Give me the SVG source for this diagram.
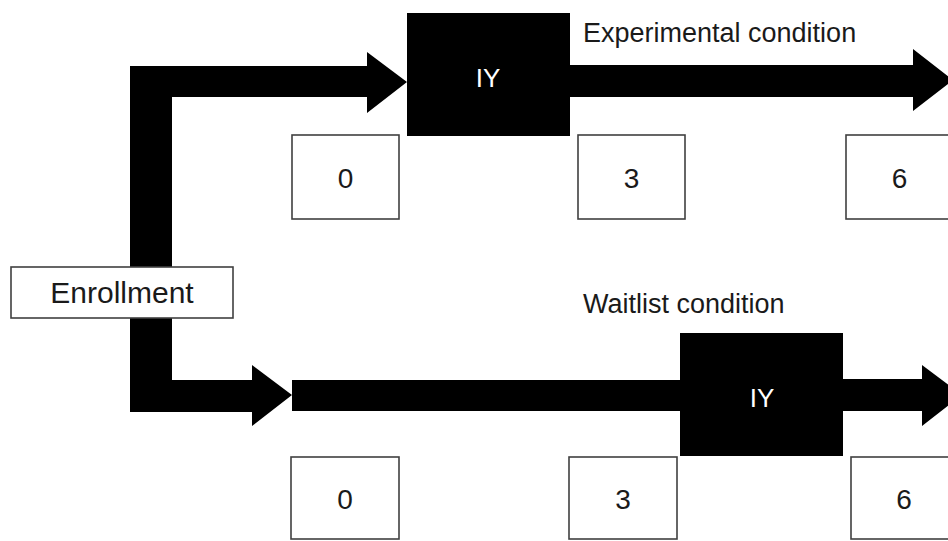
<svg xmlns="http://www.w3.org/2000/svg" width="948" height="541" viewBox="0 0 948 541">
<style>
.box{fill:#fff;stroke:#404040;stroke-width:1.6}
.blk{fill:#000}
.t{font-family:"Liberation Sans",Arial,sans-serif;font-size:28px;fill:#1a1a1a;text-anchor:middle}
.big{font-size:30px}
.lbl{font-family:"Liberation Sans",Arial,sans-serif;font-size:27px;fill:#1a1a1a}
.w{font-family:"Liberation Sans",Arial,sans-serif;font-size:26px;fill:#fff;text-anchor:middle}
</style>
<rect width="948" height="541" fill="#fff"/>
<g id="connectors">
<path class="blk" d="M130,292 L130,66 L367,66 L367,52 L407,82 L367,113 L367,97 L172,97 L172,292 Z"/>
<path class="blk" d="M130,292 L130,412 L252,412 L252,426 L292,395 L252,365 L252,380 L172,380 L172,292 Z"/>
<path class="blk" d="M570,65 L913,65 L913,49 L953,80 L913,111 L913,97 L570,97 Z"/>
<rect class="blk" x="292" y="380" width="390" height="31"/>
<path class="blk" d="M841,379 L922,379 L922,365 L962,395 L922,426 L922,411 L841,411 Z"/>
</g>
<g id="enrollment">
<rect class="box" x="11" y="267" width="222" height="51"/>
<text class="t big" x="122" y="303">Enrollment</text>
</g>
<g id="iy-experimental">
<rect class="blk" x="407" y="13" width="163" height="123"/>
<text class="w" x="488" y="87">IY</text>
</g>
<g id="label-experimental">
<text class="lbl" x="583" y="42">Experimental condition</text>
</g>
<g id="iy-waitlist">
<rect class="blk" x="680" y="333" width="163" height="123"/>
<text class="w" x="762" y="407">IY</text>
</g>
<g id="label-waitlist">
<text class="lbl" x="583" y="313">Waitlist condition</text>
</g>
<g id="top-0">
<rect class="box" x="292" y="135" width="107" height="84"/>
<text class="t" x="345.5" y="188">0</text>
</g>
<g id="top-3">
<rect class="box" x="578" y="135" width="107" height="84"/>
<text class="t" x="631.5" y="188">3</text>
</g>
<g id="top-6">
<rect class="box" x="846" y="135" width="107" height="84"/>
<text class="t" x="899.5" y="188">6</text>
</g>
<g id="bottom-0">
<rect class="box" x="291" y="457" width="108" height="82"/>
<text class="t" x="345" y="509">0</text>
</g>
<g id="bottom-3">
<rect class="box" x="569" y="457" width="108" height="82"/>
<text class="t" x="623" y="509">3</text>
</g>
<g id="bottom-6">
<rect class="box" x="851" y="457" width="107" height="82"/>
<text class="t" x="904" y="509">6</text>
</g>
</svg>
